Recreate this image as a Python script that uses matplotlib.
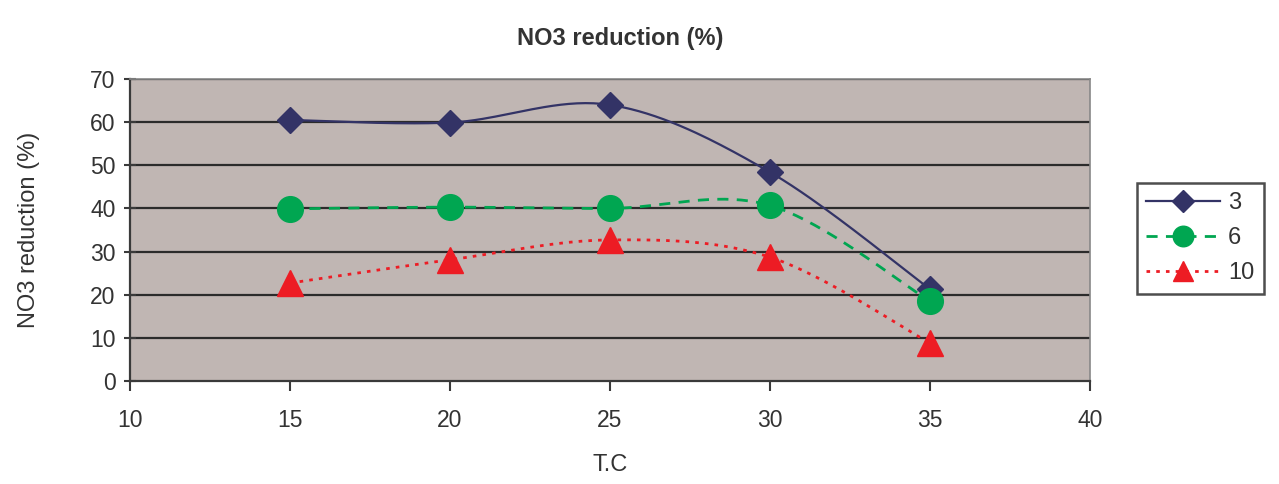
import numpy as np
import matplotlib
matplotlib.use("Agg")
import matplotlib.pyplot as plt

plt.rcParams['font.family'] = ['Liberation Sans', 'DejaVu Sans']

temps = [15, 20, 25, 30, 35]
s3 = [60.5, 59.9, 64.0, 48.4, 21.3]
s6 = [39.9, 40.3, 40.0, 40.7, 18.5]
s10 = [22.7, 28.1, 32.7, 28.7, 8.8]
labels = ['3', '6', '10']
title = 'NO3 reduction (%)'


def smooth(xs, ys, n=40):
    xs = np.asarray(xs, float); ys = np.asarray(ys, float)
    P = np.column_stack([xs, ys])
    out = [P[0]]
    for i in range(len(P) - 1):
        p0 = P[i - 1] if i > 0 else P[i]
        p3 = P[i + 2] if i + 2 < len(P) else P[i + 1]
        p1, p2 = P[i], P[i + 1]
        c1 = p1 + (p2 - p0) / 6.0
        c2 = p2 - (p3 - p1) / 6.0
        t = np.linspace(0, 1, n)[1:, None]
        seg = ((1 - t) ** 3) * p1 + 3 * ((1 - t) ** 2) * t * c1 + 3 * (1 - t) * t ** 2 * c2 + t ** 3 * p2
        out.extend(seg)
    out = np.array(out)
    return out[:, 0], out[:, 1]


fig = plt.figure(figsize=(12.79, 4.84), dpi=100)
ax = fig.add_axes([130 / 1279, 1 - 381 / 484, 960 / 1279, 302 / 484])
ax.set_facecolor('#C0B6B3')
ax.set_xlim(10, 40)
ax.set_ylim(0, 70)
ax.set_xticks(range(10, 41, 5))
ax.set_yticks(range(0, 71, 10))
for y in range(10, 71, 10):
    ax.axhline(y, color='#2b2b2b', lw=1.6, zorder=1)

styles = [
    (s3, '#333366', '-', 'D', 13.5, 1.6, None),
    (s6, '#00A651', '--', 'o', 18.5, 2.0, (4, 3)),
    (s10, '#ED1C24', ':', '^', 18.5, 2.0, (1.3, 2.2)),
]
handles = []
for (vals, col, ls, mk, ms, lw, dash), lab in zip(styles, labels):
    sx, sy = smooth(temps, vals)
    line, = ax.plot(sx, sy, color=col, lw=lw, ls=ls, zorder=3)
    if dash:
        line.set_dashes(dash)
    ax.plot(temps, vals, ls='none', marker=mk, ms=ms, color=col, mec=col, zorder=4)
    h, = ax.plot([], [], color=col, lw=lw, ls=ls, marker=mk, ms=ms, mec=col)
    if dash:
        h.set_dashes(dash)
    handles.append(h)

for name, sp in ax.spines.items():
    if name in ('left', 'bottom'):
        sp.set_color('#3a3a3a')
        sp.set_linewidth(1.6)
    else:
        sp.set_color('#888888')
        sp.set_linewidth(1.2)
ax.tick_params(axis='x', labelsize=16.5, color='#3a3a3a', length=7, width=1.5, direction='out', pad=13)
ax.tick_params(axis='y', labelsize=16.5, color='#3a3a3a', length=9, width=1.5, direction='inout', pad=6)
ax.tick_params(axis='both', labelcolor='#333333')
ax.set_xlabel('T.C', fontsize=17, color='#333333', labelpad=16)
ax.set_ylabel('NO3 reduction (%)', fontsize=17, color='#333333', labelpad=36)
fig.text(620 / 1279, 1 - 38 / 484, title, ha='center', va='center', fontsize=17, fontweight='bold', color='#333333')

leg = fig.legend(handles, labels, loc='upper left', bbox_to_anchor=(1137 / 1279, 1 - 183 / 484),
                 fontsize=17, frameon=True, fancybox=False, edgecolor='#222222', handlelength=3.1,
                 borderpad=0.4, labelspacing=0.55, handletextpad=0.35, borderaxespad=0,
                 markerscale=0.8)
leg.get_frame().set_linewidth(1.8)
for t in leg.get_texts():
    t.set_color('#333333')

fig.savefig('out.png', dpi=100, facecolor='white')
